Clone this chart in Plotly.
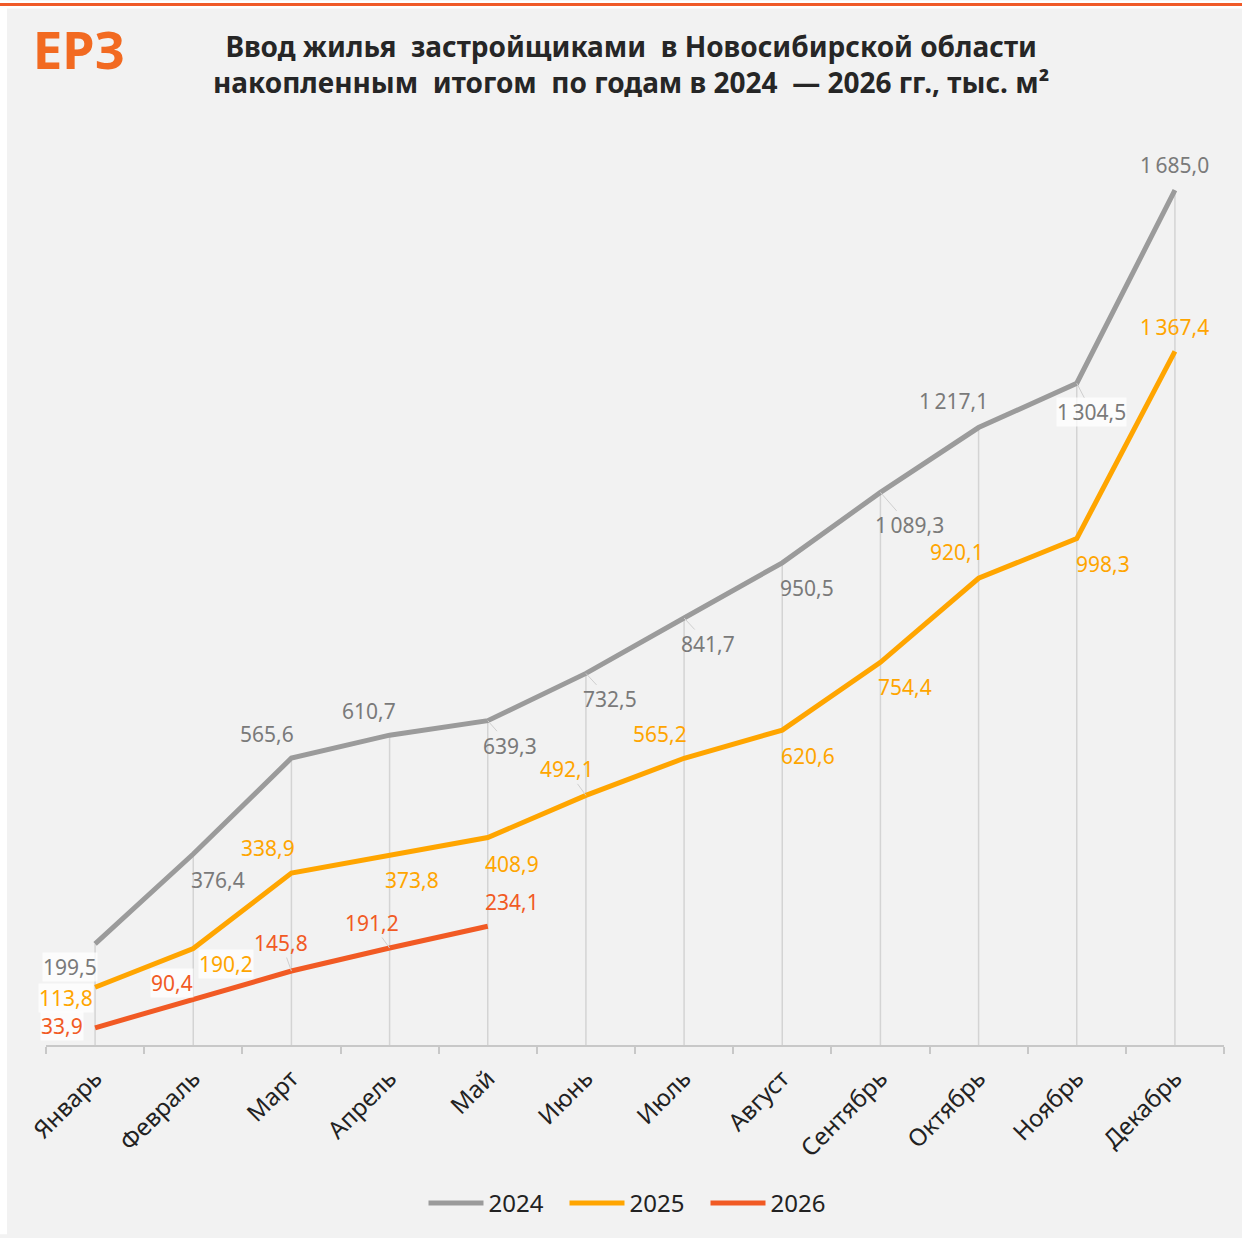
import plotly.graph_objects as go

months = ["Январь", "Февраль", "Март", "Апрель", "Май", "Июнь",
          "Июль", "Август", "Сентябрь", "Октябрь", "Ноябрь", "Декабрь"]
v2024 = [199.5, 376.4, 565.6, 610.7, 639.3, 732.5, 841.7, 950.5, 1089.3, 1217.1, 1304.5, 1685.0]
v2025 = [113.8, 190.2, 338.9, 373.8, 408.9, 492.1, 565.2, 620.6, 754.4, 920.1, 998.3, 1367.4]
v2026 = [33.9, 90.4, 145.8, 191.2, 234.1]
series_names = ["2024", "2025", "2026"]

# ---- styles ----
W, H = 1242, 1238
L, R, T, B = 46, 18, 150, 190
PW, PH = W - L - R, H - T - B
colors = {"2024": "#9b9b9b", "2025": "#FFA500", "2026": "#F15A24"}
label_colors = {"2024": "#7a7a7a", "2025": "#FFA500", "2026": "#F15A24"}
FONT = "Noto Sans"

# label offsets (pixels) and leader / background flags
offs = {
    "2024": [(-25, 23), (25, 26), (-24, -24), (-21, -24), (22, 25), (24, 26),
             (24, 26), (25, 25), (29, 33), (-25, -27), (15, 29), (0, -25)],
    "2025": [(-29, 11), (33, 15), (-23, -25), (22, 25), (24, 26), (-19, -26),
             (-24, -24), (26, 26), (25, 25), (-22, -26), (26, 25), (0, -24)],
    "2026": [(-33, -2), (-21, -16), (-10, -28), (-18, -25), (24, -24)],
}
leaders = {"2024": {4, 5, 6, 8, 10}, "2025": {5}, "2026": {2, 3}}
boxed = {"2024": {0, 10}, "2025": {0, 1}, "2026": {0, 1}}


def px_x(x):
    return (x - L) / PW


def px_y(y):
    return (H - B - y) / PH


def fmt(v):
    s = f"{v:,.1f}"
    return s.replace(",", "\u2009").replace(".", ",")


fig = go.Figure()
data = {"2024": v2024, "2025": v2025, "2026": v2026}
for name in series_names:
    vals = data[name]
    fig.add_trace(go.Scatter(
        x=months[:len(vals)], y=vals, name=name, mode="lines",
        line=dict(color=colors[name], width=5),
        hoverinfo="skip",
    ))

shapes = []
# background panel pieces
shapes.append(dict(type="rect", xref="paper", yref="paper",
                   x0=px_x(0), x1=px_x(W), y0=px_y(8), y1=px_y(0),
                   fillcolor="white", line=dict(width=0), layer="below"))
shapes.append(dict(type="rect", xref="paper", yref="paper",
                   x0=px_x(0), x1=px_x(7), y0=px_y(H), y1=px_y(0),
                   fillcolor="white", line=dict(width=0), layer="below"))
shapes.append(dict(type="line", xref="paper", yref="paper",
                   x0=px_x(0), x1=px_x(W), y0=px_y(4), y1=px_y(4),
                   line=dict(color="#F05A28", width=3)))
# drop lines
for i, m in enumerate(months):
    top = max(data[n][i] for n in series_names if i < len(data[n]))
    shapes.append(dict(type="line", xref="x", yref="y", x0=m, x1=m, y0=0, y1=top,
                       line=dict(color="#d4d4d4", width=1.5), layer="below"))

annotations = []
for name in series_names:
    vals = data[name]
    for i, v in enumerate(vals):
        ax, ay = offs[name][i]
        annotations.append(dict(
            x=months[i], y=v, xref="x", yref="y", ax=ax, ay=ay,
            text=fmt(v), showarrow=True, arrowhead=0, arrowwidth=1,
            arrowcolor="#cfcfcf" if i in leaders[name] else "rgba(0,0,0,0)",
            font=dict(family=FONT, size=21, color=label_colors[name]),
            bgcolor="rgba(255,255,255,0.75)" if i in boxed[name] else "rgba(0,0,0,0)",
            borderpad=0,
        ))

# logo
annotations.append(dict(
    x=px_x(79), y=px_y(48), xref="paper", yref="paper", showarrow=False,
    text="<b>ЕРЗ</b>", font=dict(family=FONT, size=52, color="#F26A21"),
    xanchor="center", yanchor="middle"))
# title
annotations.append(dict(
    x=px_x(631), y=px_y(64), xref="paper", yref="paper", showarrow=False,
    text="<b>Ввод жилья  застройщиками  в Новосибирской области<br>"
         "накопленным  итогом  по годам в 2024  — 2026 гг., тыс. м²</b>",
    font=dict(family=FONT, size=28, color="#262626"),
    xanchor="center", yanchor="middle", align="center"))

fig.update_layout(
    width=W, height=H,
    margin=dict(l=L, r=R, t=T, b=B, pad=0),
    paper_bgcolor="#f2f2f2", plot_bgcolor="rgba(0,0,0,0)",
    shapes=shapes, annotations=annotations,
    showlegend=True,
    legend=dict(orientation="h", x=0.5, xanchor="center", y=px_y(1207), yanchor="middle",
                font=dict(family=FONT, size=24, color="#222222"),
                bgcolor="rgba(0,0,0,0)", itemwidth=55, entrywidth=71,
                entrywidthmode="pixels"),
    xaxis=dict(
        type="category", range=[-0.5, 11.5], showgrid=False, zeroline=False,
        showline=True, linecolor="#c8c8c8", linewidth=2,
        ticks="outside", tickson="boundaries", ticklen=7, tickcolor="#c8c8c8", tickwidth=2,
        tickangle=-45, tickfont=dict(family=FONT, size=24, color="#222222"),
        ticklabelstandoff=8,
    ),
    yaxis=dict(range=[0, PH / 0.509], visible=False, fixedrange=True),
)

fig.write_html("out.html", config={"displayModeBar": False},
               post_script="document.body.style.margin='0';")
